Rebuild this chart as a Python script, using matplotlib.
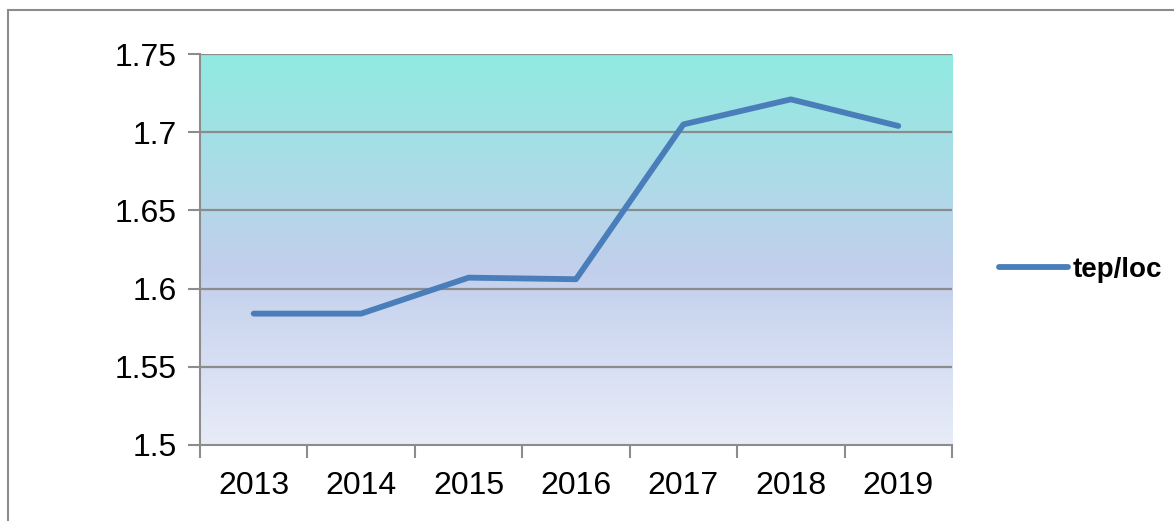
import numpy as np
import matplotlib
matplotlib.use("Agg")
import matplotlib.pyplot as plt
from matplotlib.colors import LinearSegmentedColormap
from matplotlib.patches import Rectangle

plt.rcParams['font.family'] = ['Liberation Sans', 'DejaVu Sans']

years = ['2013', '2014', '2015', '2016', '2017', '2018', '2019']
tep_loc = [1.584, 1.584, 1.607, 1.606, 1.705, 1.721, 1.704]
y_ticks = [1.5, 1.55, 1.6, 1.65, 1.7, 1.75]
y_labels = ['1.5', '1.55', '1.6', '1.65', '1.7', '1.75']

fig = plt.figure(figsize=(11.74, 5.21), dpi=100)
# outer chart frame
fig.patches.append(Rectangle((8 / 1174, -0.1), 1.2, 1 - 10 / 521 + 0.1,
                             transform=fig.transFigure, fill=False,
                             edgecolor='#8c8c8c', linewidth=1.5))

ax = fig.add_axes([200 / 1174, 1 - 445 / 521, 752 / 1174, 391 / 521])

# gradient background
grad = LinearSegmentedColormap.from_list(
    'bg', [(0.0, '#e8ecf8'), (0.45, '#c2cfec'), (1.0, '#90ebe1')])
ax.imshow(np.linspace(0, 1, 256).reshape(-1, 1), cmap=grad, aspect='auto',
          extent=(-0.5, len(years) - 0.5, 1.5, 1.75), origin='lower', zorder=0)

x = np.arange(len(years))
line, = ax.plot(x, tep_loc, color='#4a7ebb', linewidth=4.2,
                solid_capstyle='round', solid_joinstyle='round', zorder=3)

ax.set_xlim(-0.5, len(years) - 0.5)
ax.set_ylim(1.5, 1.75)
ax.set_yticks(y_ticks)
ax.set_yticklabels(y_labels)
ax.set_xticks(x)
ax.set_xticklabels(years)
ax.set_xticks(np.arange(-0.5, len(years), 1), minor=True)
ax.tick_params(axis='x', which='major', length=0, pad=19, labelsize=23)
ax.tick_params(axis='x', which='minor', length=9, width=1.5, color='#8c8c8c')
ax.tick_params(axis='y', length=9, width=1.5, color='#8c8c8c', pad=8, labelsize=23)

for yv in y_ticks[1:]:
    ax.axhline(yv, color='#8c8c8c', linewidth=1.6, zorder=1)

for s in ['top', 'right']:
    ax.spines[s].set_visible(False)
for s in ['left', 'bottom']:
    ax.spines[s].set_color('#8c8c8c')
    ax.spines[s].set_linewidth(1.5)

leg = fig.legend([line], ['tep/loc'], loc='center left',
                 bbox_to_anchor=(974 / 1174, 1 - 270 / 521), frameon=False,
                 handlelength=2.5, handletextpad=0.15,
                 prop={'size': 20, 'weight': 'bold'})

fig.savefig('out.png', dpi=100)
